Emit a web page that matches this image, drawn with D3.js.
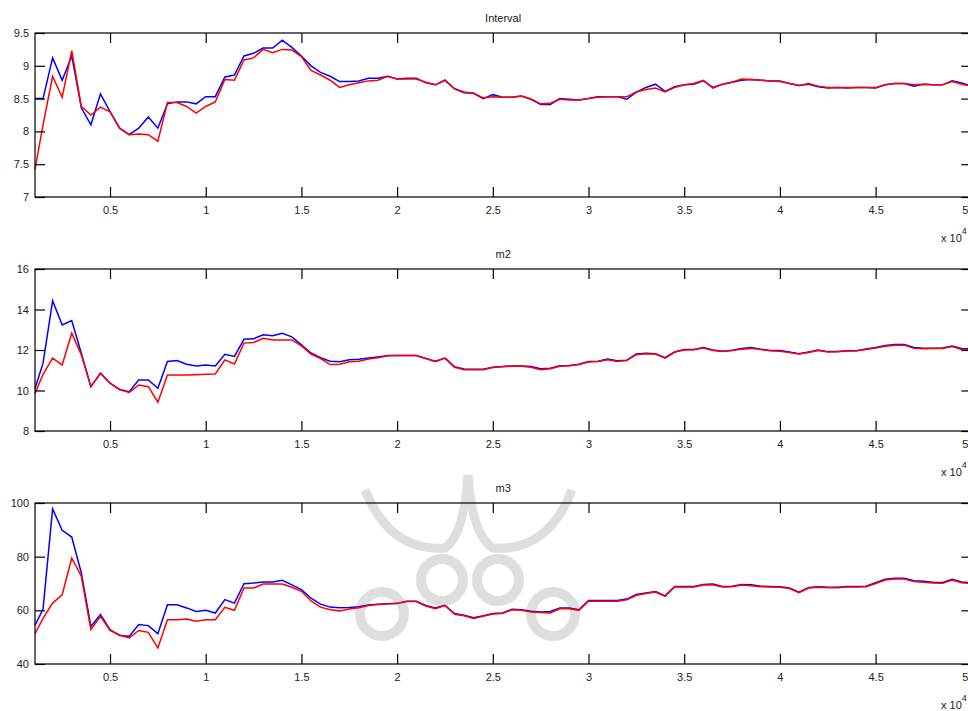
<!DOCTYPE html>
<html>
<head>
<meta charset="utf-8">
<script src="https://cdnjs.cloudflare.com/ajax/libs/d3/7.8.5/d3.min.js"></script>
<style>
	body { margin: 0; background: #fff; }
	svg text { font-family: "Liberation Sans", Arial, sans-serif; fill: #222; }
</style>
</head>
<body>
<svg id="fig" width="968" height="711"></svg>
<script>
// 横轴采样点（样本数）
var xs = [
	1080, 1500, 2000, 2500, 3000, 3500, 4000, 4500, 5000, 5500,
	6000, 6500, 7000, 7500, 8000, 8500, 9000, 9500, 10000, 10500,
	11000, 11500, 12000, 12500, 13000, 13500, 14000, 14500, 15000, 15500,
	16000, 16500, 17000, 17500, 18000, 18500, 19000, 19500, 20000, 20500,
	21000, 21500, 22000, 22500, 23000, 23500, 24000, 24500, 25000, 25500,
	26000, 26500, 27000, 27500, 28000, 28500, 29000, 29500, 30000, 30500,
	31000, 31500, 32000, 32500, 33000, 33500, 34000, 34500, 35000, 35500,
	36000, 36500, 37000, 37500, 38000, 38500, 39000, 39500, 40000, 40500,
	41000, 41500, 42000, 42500, 43000, 43500, 44000, 44500, 45000, 45500,
	46000, 46500, 47000, 47500, 48000, 48500, 49000, 49500, 50000
];
var xTicks = [5000, 10000, 15000, 20000, 25000, 30000, 35000, 40000, 45000, 50000];

// Interval
var intervalBlue = [
	8.5, 8.5, 9.12, 8.78, 9.15, 8.36, 8.1, 8.57, 8.3, 8.05,
	7.95, 8.05, 8.22, 8.05, 8.42, 8.45, 8.45, 8.42, 8.53, 8.53,
	8.83, 8.86, 9.15, 9.19, 9.27, 9.27, 9.39, 9.28, 9.15, 9.0,
	8.9, 8.84, 8.76, 8.76, 8.77, 8.81, 8.81, 8.84, 8.8, 8.81,
	8.81, 8.74, 8.71, 8.78, 8.65, 8.59, 8.58, 8.5, 8.56, 8.52,
	8.52, 8.54, 8.49, 8.41, 8.41, 8.5, 8.49, 8.48, 8.5, 8.53,
	8.53, 8.53, 8.49, 8.6, 8.67, 8.72, 8.61, 8.68, 8.71, 8.72,
	8.77, 8.67, 8.72, 8.75, 8.78, 8.79, 8.78, 8.77, 8.77, 8.73,
	8.7, 8.72, 8.68, 8.66, 8.67, 8.66, 8.67, 8.67, 8.66, 8.71,
	8.73, 8.73, 8.69, 8.72, 8.71, 8.71, 8.77, 8.74, 8.69
];
var intervalRed = [
	7.42, 8.1, 8.84, 8.52, 9.23, 8.38, 8.25, 8.37, 8.3, 8.05,
	7.95, 7.96, 7.95, 7.85, 8.44, 8.44, 8.38, 8.28, 8.38, 8.45,
	8.79, 8.78, 9.09, 9.12, 9.25, 9.2, 9.25, 9.24, 9.14, 8.93,
	8.86, 8.78, 8.67, 8.71, 8.74, 8.77, 8.78, 8.84, 8.8, 8.8,
	8.8, 8.75, 8.71, 8.78, 8.65, 8.6, 8.58, 8.51, 8.53, 8.52,
	8.52, 8.54, 8.49, 8.42, 8.43, 8.49, 8.48, 8.48, 8.5, 8.52,
	8.53, 8.53, 8.53, 8.6, 8.64, 8.66, 8.6, 8.67, 8.71, 8.73,
	8.78, 8.66, 8.72, 8.75, 8.8, 8.79, 8.78, 8.77, 8.76, 8.73,
	8.7, 8.73, 8.69, 8.67, 8.67, 8.67, 8.67, 8.67, 8.67, 8.71,
	8.73, 8.73, 8.71, 8.72, 8.71, 8.71, 8.76, 8.72, 8.69
];

// m2
var m2Blue = [
	10.1, 11.35, 14.43, 13.24, 13.45, 11.84, 10.19, 10.85, 10.36, 10.05,
	9.94, 10.52, 10.52, 10.11, 11.43, 11.48, 11.3, 11.21, 11.26, 11.21,
	11.79, 11.68, 12.53, 12.55, 12.75, 12.7, 12.83, 12.65, 12.25, 11.85,
	11.62, 11.45, 11.42, 11.52, 11.54, 11.6, 11.66, 11.73, 11.73, 11.73,
	11.73, 11.58, 11.45, 11.6, 11.18, 11.06, 11.05, 11.05, 11.15, 11.18,
	11.21, 11.21, 11.18, 11.07, 11.1, 11.22, 11.23, 11.3, 11.43, 11.45,
	11.55, 11.47, 11.5, 11.8, 11.84, 11.81, 11.62, 11.9, 12.02, 12.03,
	12.12, 12.0, 11.94, 11.99, 12.08, 12.12, 12.04, 11.98, 11.97, 11.9,
	11.81, 11.9, 12.0, 11.92, 11.92, 11.96, 11.96, 12.05, 12.12, 12.22,
	12.27, 12.27, 12.12, 12.09, 12.09, 12.1, 12.2, 12.08, 12.06
];
var m2Red = [
	9.86, 10.8, 11.6, 11.26, 12.83, 11.76, 10.19, 10.85, 10.36, 10.05,
	9.9, 10.27, 10.19, 9.42, 10.77, 10.77, 10.77, 10.78, 10.8, 10.82,
	11.51, 11.31, 12.34, 12.37, 12.58, 12.5, 12.5, 12.5, 12.2, 11.8,
	11.58, 11.28, 11.3, 11.42, 11.45, 11.55, 11.62, 11.72, 11.73, 11.73,
	11.73, 11.58, 11.42, 11.6, 11.15, 11.02, 11.02, 11.03, 11.13, 11.17,
	11.2, 11.2, 11.15, 11.03, 11.07, 11.2, 11.22, 11.28, 11.41, 11.43,
	11.52, 11.43, 11.48, 11.77, 11.82, 11.8, 11.6, 11.9, 12.0, 12.01,
	12.1, 11.98, 11.93, 11.98, 12.04, 12.08, 12.02, 11.96, 11.94, 11.87,
	11.8, 11.88, 11.97, 11.9, 11.91, 11.95, 11.96, 12.03, 12.1, 12.19,
	12.24, 12.24, 12.08, 12.06, 12.07, 12.08, 12.17, 12.03, 12.02
];

// m3
var m3Blue = [
	54.4, 60.5, 97.8, 89.8, 87.3, 73.9, 54.0, 58.4, 52.8, 50.6,
	50.3, 54.7, 54.3, 51.3, 62.1, 62.1, 60.9, 59.6, 60, 59,
	64, 62.7, 69.9, 70.2, 70.6, 70.6, 71.2, 69.5, 67.7, 64.5,
	62.3, 61.2, 61.0, 61.1, 61.3, 62.0, 62.3, 62.5, 62.6, 63.4,
	63.4, 61.8, 60.9, 61.9, 58.8, 58.2, 57.2, 58.0, 58.8, 59.0,
	60.4, 60.2, 59.7, 59.4, 59.6, 60.9, 60.9, 60.2, 63.7, 63.7,
	63.7, 63.7, 64.2, 65.9, 66.5, 67.0, 65.4, 68.9, 68.9, 68.9,
	69.6, 69.8, 68.9, 69.0, 69.6, 69.5, 69.0, 68.9, 68.8, 68.3,
	66.8, 68.5, 68.8, 68.6, 68.6, 68.9, 68.9, 69.0, 70.3, 71.6,
	72.0, 72.0, 71.0, 70.8, 70.5, 70.4, 71.6, 70.6, 70.3
];
var m3Red = [
	51.3, 57, 62.7, 65.8, 79.5, 72.7, 52.8, 57.8, 52.5, 50.8,
	49.7, 52.5, 51.8, 46, 56.5, 56.5, 56.8, 55.9, 56.5, 56.5,
	61.1, 60, 68.3, 68.3, 69.8, 69.8, 69.8, 68.6, 67.1, 63.5,
	61.2, 60.2, 59.8, 60.5, 61.0, 61.8, 62.2, 62.4, 62.5, 63.3,
	63.3, 61.6, 60.6, 61.8, 58.5, 58.0, 57.0, 57.8, 58.6, 58.8,
	60.2, 60.0, 59.4, 59.2, 59.0, 60.6, 60.6, 60.0, 63.4, 63.4,
	63.4, 63.4, 63.9, 65.6, 66.3, 66.8, 65.2, 68.7, 68.7, 68.7,
	69.4, 69.5, 68.7, 68.8, 69.4, 69.2, 68.8, 68.7, 68.6, 68.1,
	66.6, 68.3, 68.6, 68.4, 68.4, 68.7, 68.7, 68.8, 70.0, 71.3,
	71.7, 71.7, 70.7, 70.5, 70.2, 70.1, 71.3, 70.3, 70.0
];

var yTicksInterval = [7, 7.5, 8, 8.5, 9, 9.5];
var yTicksM2 = [8, 10, 12, 14, 16];
var yTicksM3 = [40, 60, 80, 100];

// 子图布局
var panels = [
	{ title: "Interval", blue: intervalBlue, red: intervalRed, ticks: yTicksInterval, top: 33, bottom: 197 },
	{ title: "m2", blue: m2Blue, red: m2Red, ticks: yTicksM2, top: 269, bottom: 431 },
	{ title: "m3", blue: m3Blue, red: m3Red, ticks: yTicksM3, top: 503, bottom: 664 }
];

var svg = d3.select("#fig");
svg.append("rect").attr("width", 968).attr("height", 711).attr("fill", "#fff");

// 背景水印（只画大致轮廓）
function gb_drawWatermark() {
	var w = svg.append("g").attr("fill", "none").attr("stroke", "#dedede").attr("stroke-width", 10);
	var rings = [[442, 580, 21], [498, 580, 21], [382, 614, 22], [553, 614, 22]];
	w.selectAll("circle").data(rings).enter().append("circle")
		.attr("cx", function (d) { return d[0]; })
		.attr("cy", function (d) { return d[1]; })
		.attr("r", function (d) { return d[2]; });
	w.append("path").attr("stroke-width", 9)
		.attr("d", "M365,490 Q390,552 445,548 Q464,535 468,475 Q472,535 493,548 Q548,552 572,490");
}
gb_drawWatermark();

var x = d3.scaleLinear().domain([1080, 50000]).range([35, 971.3]);
var tickLen = 10;
var fmt = d3.format("~g");

function gb_drawPanel(p, k) {
	var y = d3.scaleLinear()
		.domain([p.ticks[0], p.ticks[p.ticks.length - 1]])
		.range([p.bottom, p.top]);
	var g = svg.append("g");

	// 曲线：先蓝后红
	var line = d3.line()
		.x(function (d, i) { return x(xs[i]); })
		.y(function (d) { return y(d); });
	g.append("path").datum(p.blue)
		.attr("d", line).attr("fill", "none")
		.attr("stroke", "#0000ff").attr("stroke-width", 1.5);
	g.append("path").datum(p.red)
		.attr("d", line).attr("fill", "none")
		.attr("stroke", "#ff0000").attr("stroke-width", 1.5);

	// 外框
	g.append("rect")
		.attr("x", x.range()[0]).attr("y", p.top)
		.attr("width", x.range()[1] - x.range()[0])
		.attr("height", p.bottom - p.top)
		.attr("fill", "none").attr("stroke", "#000").attr("stroke-width", 1.2);

	// 四边刻度（朝内）
	var ax = [];
	ax.push(g.append("g").attr("transform", "translate(0," + p.bottom + ")")
		.call(d3.axisBottom(x).tickValues(xTicks).tickSizeInner(-tickLen).tickSizeOuter(0)
			.tickPadding(9).tickFormat(function (d) { return fmt(d / 10000); })));
	ax.push(g.append("g").attr("transform", "translate(0," + p.top + ")")
		.call(d3.axisTop(x).tickValues(xTicks).tickSizeInner(-tickLen).tickSizeOuter(0).tickFormat("")));
	ax.push(g.append("g").attr("transform", "translate(" + x.range()[0] + ",0)")
		.call(d3.axisLeft(y).tickValues(p.ticks).tickSizeInner(-tickLen).tickSizeOuter(0)
			.tickPadding(6).tickFormat(fmt)));
	ax.push(g.append("g").attr("transform", "translate(" + x.range()[1] + ",0)")
		.call(d3.axisRight(y).tickValues(p.ticks).tickSizeInner(-tickLen).tickSizeOuter(0).tickFormat("")));
	ax.forEach(function (a) {
		a.select(".domain").remove();
		a.selectAll(".tick line").attr("stroke", "#000").attr("stroke-width", 1.2);
		a.selectAll("text").attr("font-size", 11).attr("fill", "#222")
			.attr("font-family", "Liberation Sans, Arial, sans-serif");
	});
	// 最右侧的 "5" 在窗口边缘，往左挪一点
	ax[0].selectAll(".tick text")
		.filter(function (d) { return d == 50000; })
		.attr("text-anchor", "end").attr("dx", -3.5);

	// 标题
	g.append("text")
		.attr("x", (x.range()[0] + x.range()[1]) / 2).attr("y", p.top - 11)
		.attr("text-anchor", "middle").attr("font-size", 11)
		.text(p.title);

	// x 10^4
	var e = g.append("text").attr("x", 941).attr("y", p.bottom + 45).attr("font-size", 11);
	e.append("tspan").text("x 10");
	e.append("tspan").attr("dy", -8).attr("font-size", 9).text("4");
}

for (var i = 0; i < panels.length; i++) {
	gb_drawPanel(panels[i], i);
}
</script>
</body>
</html>
